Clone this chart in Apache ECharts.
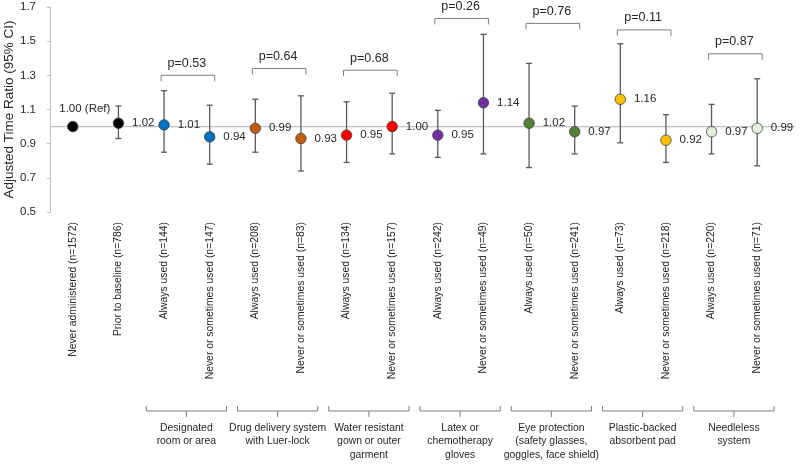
<!DOCTYPE html>
<html><head><meta charset="utf-8">
<script src="https://cdn.jsdelivr.net/npm/echarts@6/dist/echarts.min.js"></script>
<style>html,body{margin:0;padding:0;background:#fff}#c{width:800px;height:466px}</style>
</head><body><div id="c"></div>
<script>
const categories = ['Never administered (n=1572)','Prior to baseline (n=786)','Always used (n=144)','Never or sometimes used (n=147)','Always used (n=208)','Never or sometimes used (n=83)','Always used (n=134)','Never or sometimes used (n=157)','Always used (n=242)','Never or sometimes used (n=49)','Always used (n=50)','Never or sometimes used (n=241)','Always used (n=73)','Never or sometimes used (n=218)','Always used (n=220)','Never or sometimes used (n=71)'];
const ratios = [1.00,1.02,1.01,0.94,0.99,0.93,0.95,1.00,0.95,1.14,1.02,0.97,1.16,0.92,0.97,0.99];
const ciLow  = [null,0.93,0.85,0.78,0.85,0.74,0.79,0.84,0.82,0.84,0.76,0.84,0.905,0.79,0.84,0.77];
const ciHigh = [null,1.12,1.21,1.125,1.16,1.18,1.145,1.195,1.095,1.54,1.37,1.12,1.485,1.07,1.13,1.28];
const valueLabels = ['1.00 (Ref)','1.02','1.01','0.94','0.99','0.93','0.95','1.00','0.95','1.14','1.02','0.97','1.16','0.92','0.97','0.99'];
const pointColors = ['#000000','#000000','#0070C0','#0070C0','#C55A11','#C55A11','#FF0000','#FF0000','#7030A0','#7030A0','#548235','#548235','#FFC000','#FFC000','#E2EFDA','#E2EFDA'];
const groupNames = ['Designated\nroom or area','Drug delivery system\nwith Luer-lock','Water resistant\ngown or outer\ngarment','Latex or\nchemotherapy\ngloves','Eye protection\n(safety glasses,\ngoggles, face shield)','Plastic-backed\nabsorbent pad','Needleless\nsystem'];
const groupFirst = [2,4,6,8,10,12,14];
const pValues = ['p=0.53','p=0.64','p=0.68','p=0.26','p=0.76','p=0.11','p=0.87'];
const pBracketLevel = [1.30,1.34,1.33,1.633,1.604,1.566,1.426];
const yTicks = [0.5,0.7,0.9,1.1,1.3,1.5,1.7];

const txt = '#262626';
const font = '"Liberation Sans", Arial, sans-serif';
const chart = echarts.init(document.getElementById('c'), null, {renderer:'canvas'});
chart.setOption({
  animation:false,
  textStyle:{fontFamily:font},
  grid:{left:50, right:20, top:7, bottom:254, containLabel:false, outerBoundsMode:'none'},
  xAxis:{type:'category', data:categories, boundaryGap:true,
    axisLine:{show:false}, axisTick:{show:false}, splitLine:{show:false},
    axisLabel:{rotate:90, interval:0, margin:10, fontSize:10.4, color:txt, fontFamily:font}},
  yAxis:{type:'value', min:0.5, max:1.7,
    name:'Adjusted Time Ratio (95% CI)', nameLocation:'middle', nameGap:34, nameRotate:90, nameMoveOverlap:false,
    nameTextStyle:{fontSize:13.5, color:txt, fontFamily:font},
    axisLine:{show:true, lineStyle:{color:'#bfbfbf', width:1}},
    axisTick:{show:true, length:3, customValues:yTicks, lineStyle:{color:'#bfbfbf'}},
    axisLabel:{customValues:yTicks, margin:14, fontSize:11.5, color:txt, fontFamily:font, formatter:v=>v.toFixed(1)},
    splitLine:{show:false}},
  series:[
    {type:'custom', z:1, clip:false, data:[[0,1]],
      renderItem(params, api){
        const p = api.coord([0, api.value(1)]);
        return {type:'line', shape:{x1:params.coordSys.x, y1:p[1], x2:api.getWidth()-5, y2:p[1]},
          style:{stroke:'#bfbfbf', lineWidth:1.3}};
      }},
    {type:'custom', z:2, clip:false,
      data: categories.map((c,i)=>[i, ciLow[i], ciHigh[i]]).filter(d=>d[1]!=null),
      encode:{x:0, y:[1,2]},
      renderItem(params, api){
        const x = api.value(0);
        const lo = api.coord([x, api.value(1)]);
        const hi = api.coord([x, api.value(2)]);
        const cap = 3, style = {stroke:'#595959', lineWidth:1.3};
        return {type:'group', children:[
          {type:'line', shape:{x1:lo[0],y1:lo[1],x2:hi[0],y2:hi[1]}, style},
          {type:'line', shape:{x1:lo[0]-cap,y1:lo[1],x2:lo[0]+cap,y2:lo[1]}, style},
          {type:'line', shape:{x1:hi[0]-cap,y1:hi[1],x2:hi[0]+cap,y2:hi[1]}, style}
        ]};
      }},
    {type:'scatter', z:3, symbol:'circle', symbolSize:10.5,
      itemStyle:{borderColor:'#404040', borderWidth:0.8, opacity:1},
      label:{show:true, position:'right', distance:8, fontSize:11.5, color:txt, fontFamily:font,
        formatter:p=>valueLabels[p.dataIndex]},
      data: ratios.map((v,i)=>{
        const d = {value:[i,v], itemStyle:{color:pointColors[i]}};
        if(i===0) d.label = {position:'top', distance:6, offset:[12,0]};
        return d;
      })},
    {type:'custom', z:4, clip:false,
      data: pValues.map((p,k)=>[groupFirst[k], groupFirst[k]+1, pBracketLevel[k]]),
      renderItem(params, api){
        const a = api.coord([api.value(0), api.value(2)]);
        const b = api.coord([api.value(1), api.value(2)]);
        const x1 = a[0]-3, x2 = b[0]+5, y = a[1];
        return {type:'group', children:[
          {type:'polyline', shape:{points:[[x1,y+6],[x1,y],[x2,y],[x2,y+6]]}, style:{stroke:'#7f7f7f', lineWidth:1, fill:null}},
          {type:'text', style:{text:pValues[params.dataIndex], x:(a[0]+b[0])/2, y:y-12, align:'center', verticalAlign:'middle',
            fontSize:12.5, fill:txt, fontFamily:font}}
        ]};
      }},
    {type:'custom', z:4, clip:false,
      data: groupFirst.map(s=>[s, s+1]),
      renderItem(params, api){
        const a = api.coord([api.value(0), 0.5]);
        const b = api.coord([api.value(1), 0.5]);
        const band = api.size([1,0])[0];
        const x1 = a[0]-band/2+5, x2 = b[0]+band/2-6, xm = (x1+x2)/2;
        const y = api.getHeight()-55;
        return {type:'group', children:[
          {type:'polyline', shape:{points:[[x1,y-5],[x1,y],[x2,y],[x2,y-5]]}, style:{stroke:'#7f7f7f', lineWidth:1, fill:null}},
          {type:'line', shape:{x1:xm,y1:y,x2:xm,y2:y+6}, style:{stroke:'#7f7f7f', lineWidth:1}},
          {type:'text', style:{text:groupNames[params.dataIndex], x:xm, y:y+10, align:'center', verticalAlign:'top',
            lineHeight:13.5, fontSize:10.4, fill:txt, fontFamily:font}}
        ]};
      }}
  ]
});
</script></body></html>
